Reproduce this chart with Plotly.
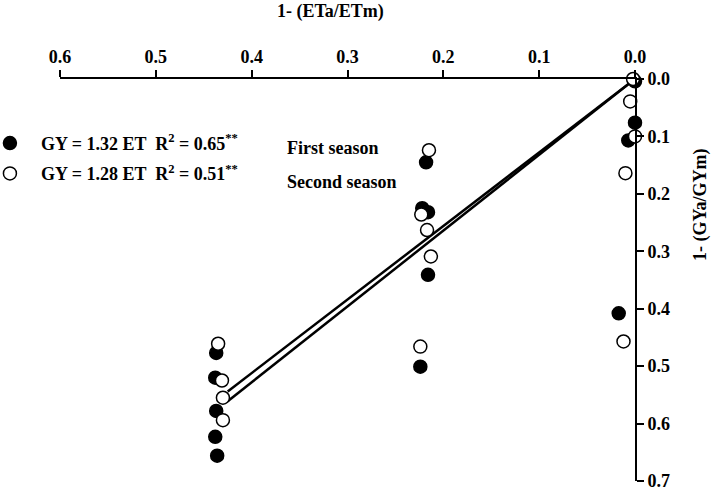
import plotly.graph_objects as go

# 1-(ETa/ETm) and 1-(GYa/GYm)
first_x = [0.000, 0.000, 0.007, 0.017, 0.218, 0.222, 0.216, 0.216, 0.224, 0.437, 0.438, 0.437, 0.438, 0.436]
first_y = [0.004, 0.076, 0.107, 0.408, 0.145, 0.225, 0.232, 0.341, 0.501, 0.477, 0.520, 0.578, 0.623, 0.656]
second_x = [0.002, 0.005, 0.000, 0.010, 0.012, 0.215, 0.223, 0.217, 0.213, 0.224, 0.435, 0.431, 0.430, 0.430]
second_y = [0.000, 0.039, 0.100, 0.164, 0.457, 0.124, 0.236, 0.263, 0.309, 0.466, 0.461, 0.525, 0.555, 0.594]

slope_first = 1.32
slope_second = 1.28
fit_x = [0.0, 0.425]

x_ticks = [0.0, 0.1, 0.2, 0.3, 0.4, 0.5, 0.6]
y_ticks = [0.0, 0.1, 0.2, 0.3, 0.4, 0.5, 0.6, 0.7]

FONT = "Liberation Serif"
fs = 18

fig = go.Figure()
fig.add_trace(go.Scatter(x=fit_x, y=[slope_first * v for v in fit_x], mode="lines",
                         line=dict(color="black", width=2.5), showlegend=False, hoverinfo="skip"))
fig.add_trace(go.Scatter(x=fit_x, y=[slope_second * v for v in fit_x], mode="lines",
                         line=dict(color="black", width=2.5), showlegend=False, hoverinfo="skip"))
fig.add_trace(go.Scatter(x=first_x, y=first_y, mode="markers", cliponaxis=False,
                         name="<b>GY = 1.32 ET  R<sup>2</sup> = 0.65<sup>**</sup></b>",
                         legendgroup="a",
                         marker=dict(symbol="circle", size=13, color="black",
                                     line=dict(color="black", width=1.5))))
fig.add_trace(go.Scatter(x=second_x, y=second_y, mode="markers", cliponaxis=False,
                         name="<b>GY = 1.28 ET  R<sup>2</sup> = 0.51<sup>**</sup></b>",
                         legendgroup="b",
                         marker=dict(symbol="circle", size=13, color="white",
                                     line=dict(color="black", width=1.5))))

fig.update_layout(
    width=712, height=489,
    margin=dict(l=60, r=77, t=79, b=8, autoexpand=False),
    paper_bgcolor="white", plot_bgcolor="white",
    font=dict(family=FONT, size=fs, color="black"),
    showlegend=True,
    legend=dict(x=-0.141, xanchor="left", y=0.886, yanchor="top",
                bgcolor="rgba(0,0,0,0)", font=dict(family=FONT, size=fs),
                tracegroupgap=4, itemwidth=52),
    xaxis=dict(range=[0.6, 0.0], side="top", tickvals=x_ticks, tickformat=".1f",
               showline=True, linecolor="black", linewidth=2, automargin=False,
               ticks="outside", ticklen=7, tickwidth=1.5, tickcolor="black",
               showgrid=False, zeroline=False, ticklabeloverflow="allow",
               tickfont=dict(family=FONT, size=fs, weight="bold")),
    yaxis=dict(range=[0.7, 0.0], side="right", tickvals=y_ticks, tickformat=".1f",
               showline=True, linecolor="black", linewidth=2, automargin=False,
               ticks="outside", ticklen=7, tickwidth=1.5, tickcolor="black",
               showgrid=False, zeroline=False, ticklabeloverflow="allow",
               tickfont=dict(family=FONT, size=fs, weight="bold")),
    annotations=[
        dict(text="<b>1- (ETa/ETm)</b>", xref="paper", yref="paper", x=0.471, y=1.169,
             showarrow=False, font=dict(family=FONT, size=fs), xanchor="center", yanchor="middle"),
        dict(text="<b>1- (GYa/GYm)</b>", xref="paper", yref="paper", x=1.115, y=0.687,
             textangle=-90, showarrow=False, font=dict(family=FONT, size=fs),
             xanchor="center", yanchor="middle"),
        dict(text="<b>First season</b>", xref="paper", yref="paper", x=0.391, y=0.828,
             showarrow=False, font=dict(family=FONT, size=fs), xanchor="left", yanchor="middle"),
        dict(text="<b>Second season</b>", xref="paper", yref="paper", x=0.391, y=0.744,
             showarrow=False, font=dict(family=FONT, size=fs), xanchor="left", yanchor="middle"),
    ],
)

fig.write_html("out.html", config={"displayModeBar": False},
               post_script="document.body.style.margin='0';")
